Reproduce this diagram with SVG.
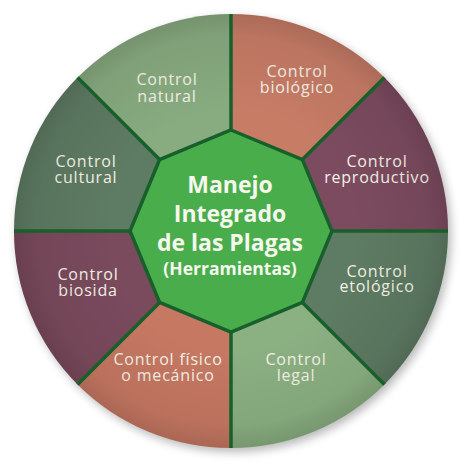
<svg xmlns="http://www.w3.org/2000/svg" width="461" height="464" viewBox="0 0 461 464">
  <defs>
    <style>
      .lbl { font-family: "Open Sans", "Noto Sans", "Liberation Sans", sans-serif; font-size: 16px; font-weight: 500; letter-spacing: 0.8px; fill: #f4f2e6; text-anchor: middle; }
      .ctr { font-family: "Open Sans", "Noto Sans", "Liberation Sans", sans-serif; font-weight: 700; fill: #f6f8ee; text-anchor: middle; }
      .spoke { stroke: #17602b; stroke-width: 3.5; stroke-linecap: butt; }
      .sector { stroke: none; }
    </style>
    <radialGradient id="rim" cx="231" cy="231" r="217" gradientUnits="userSpaceOnUse">
      <stop offset="0.55" stop-color="#000" stop-opacity="0"/>
      <stop offset="0.9" stop-color="#000" stop-opacity="0.06"/>
      <stop offset="1" stop-color="#000" stop-opacity="0.14"/>
    </radialGradient>
    <filter id="shadow" x="-20%" y="-20%" width="140%" height="140%">
      <feGaussianBlur stdDeviation="5"/>
    </filter>
  </defs>
  <rect width="461" height="464" fill="#ffffff"/>
  <circle cx="234" cy="235" r="217" fill="#000" opacity="0.28" filter="url(#shadow)"/>

  <g id="control-biologico">
    <path class="sector" fill="#c77c66" d="M231 231 L231 14 A217 217 0 0 1 384.44 77.56 Z"/>
    <text class="lbl"><tspan x="297" y="77">Control</tspan><tspan x="297" y="93">biológico</tspan></text>
  </g>
  <g id="control-reproductivo">
    <path class="sector" fill="#7c4b5f" d="M231 231 L384.44 77.56 A217 217 0 0 1 448 231 Z"/>
    <text class="lbl"><tspan x="377" y="167">Control</tspan><tspan x="377" y="183">reproductivo</tspan></text>
  </g>
  <g id="control-etologico">
    <path class="sector" fill="#5e7b63" d="M231 231 L448 231 A217 217 0 0 1 384.44 384.44 Z"/>
    <text class="lbl"><tspan x="377" y="277">Control</tspan><tspan x="377" y="292">etológico</tspan></text>
  </g>
  <g id="control-legal">
    <path class="sector" fill="#8bb082" d="M231 231 L384.44 384.44 A217 217 0 0 1 231 448 Z"/>
    <text class="lbl"><tspan x="296" y="365">Control</tspan><tspan x="296" y="381">legal</tspan></text>
  </g>
  <g id="control-fisico">
    <path class="sector" fill="#c67862" d="M231 231 L231 448 A217 217 0 0 1 77.56 384.44 Z"/>
    <text class="lbl"><tspan x="168" y="365">Control físico</tspan><tspan x="168" y="381">o mecánico</tspan></text>
  </g>
  <g id="control-biosida">
    <path class="sector" fill="#7a4a5d" d="M231 231 L77.56 384.44 A217 217 0 0 1 14 231 Z"/>
    <text class="lbl"><tspan x="88" y="280">Control</tspan><tspan x="88" y="296">biosida</tspan></text>
  </g>
  <g id="control-cultural">
    <path class="sector" fill="#5e7b63" d="M231 231 L14 231 A217 217 0 0 1 77.56 77.56 Z"/>
    <text class="lbl"><tspan x="86" y="167">Control</tspan><tspan x="86" y="183">cultural</tspan></text>
  </g>
  <g id="control-natural">
    <path class="sector" fill="#88ab80" d="M231 231 L77.56 77.56 A217 217 0 0 1 231 14 Z"/>
    <text class="lbl"><tspan x="167" y="85">Control</tspan><tspan x="167" y="102">natural</tspan></text>
  </g>

  <circle cx="231" cy="231" r="217" fill="url(#rim)"/>

  <g id="connectors">
    <line class="spoke" x1="231" y1="130" x2="231" y2="14"/>
    <line class="spoke" x1="302.42" y1="159.58" x2="384.44" y2="77.56"/>
    <line class="spoke" x1="332" y1="231" x2="448" y2="231"/>
    <line class="spoke" x1="302.42" y1="302.42" x2="384.44" y2="384.44"/>
    <line class="spoke" x1="231" y1="332" x2="231" y2="448"/>
    <line class="spoke" x1="159.58" y1="302.42" x2="77.56" y2="384.44"/>
    <line class="spoke" x1="130" y1="231" x2="14" y2="231"/>
    <line class="spoke" x1="159.58" y1="159.58" x2="77.56" y2="77.56"/>
  </g>

  <g id="manejo-integrado">
    <polygon fill="#4aad4c" stroke="#17602b" stroke-width="3.5" stroke-linejoin="miter"
      points="231,130 302.42,159.58 332,231 302.42,302.42 231,332 159.58,302.42 130,231 159.58,159.58"/>
    <text class="ctr" font-size="23"><tspan x="230" y="193">Manejo</tspan><tspan x="230" y="222">Integrado</tspan><tspan x="230" y="251">de las Plagas</tspan><tspan x="230" y="275" font-size="17.5">(Herramientas)</tspan></text>
  </g>
</svg>
